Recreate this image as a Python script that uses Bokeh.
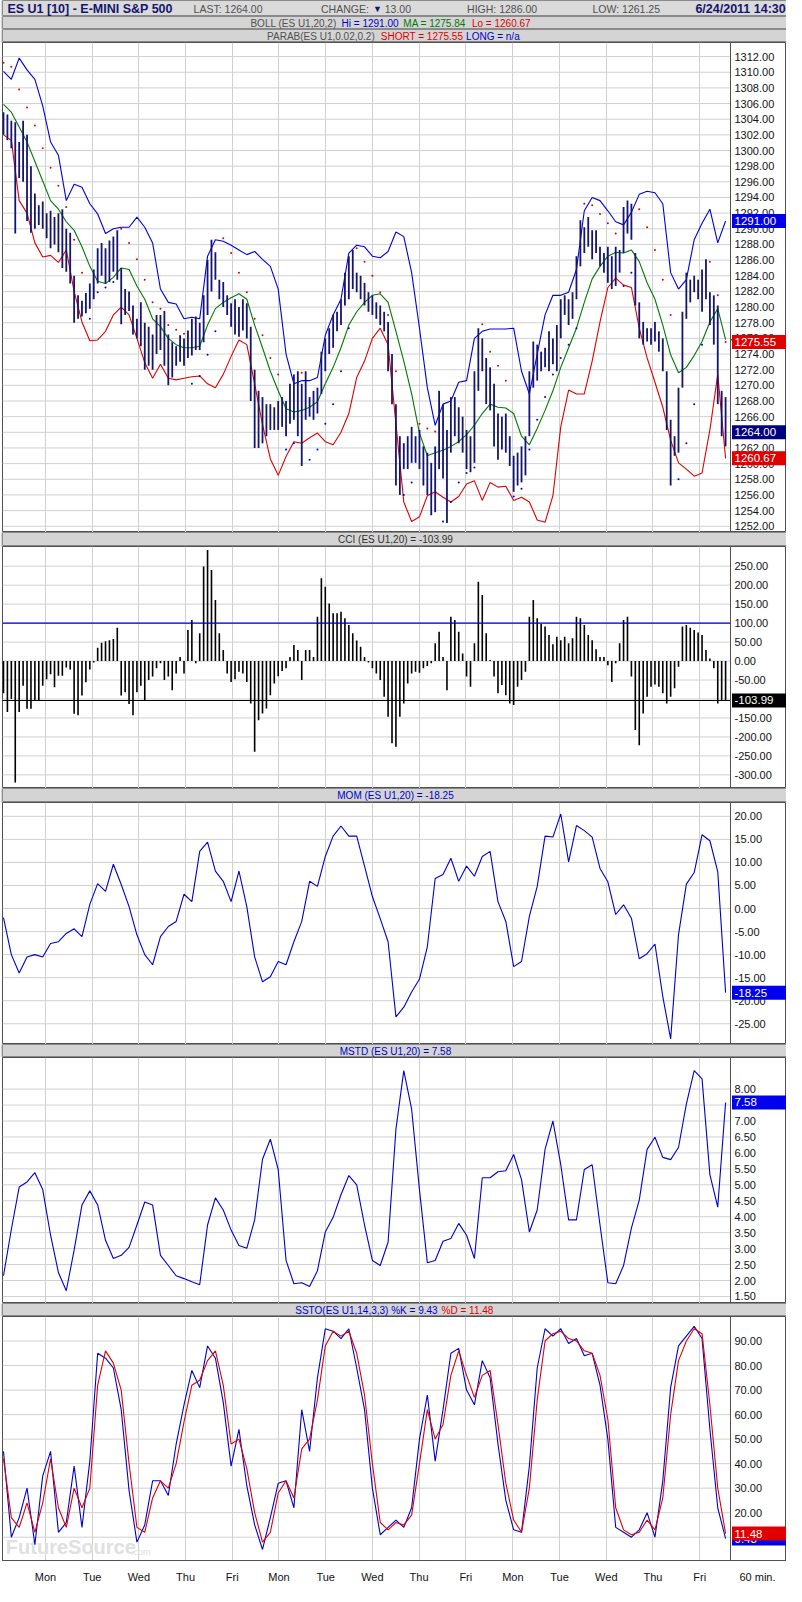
from bokeh.plotting import figure
from bokeh.models import Range1d, FixedTicker, Span
from bokeh.layouts import column
from bokeh.embed import file_html
from bokeh.resources import INLINE
from bokeh.core.properties import value

# ---------------- data ----------------
# bar index: one entry per two 60-minute bars
day_pos = [10.7, 22.6, 34.5, 46.4, 58.3, 70.2, 82.1, 94.0, 105.9, 117.8, 129.8, 141.7, 153.6, 165.5, 177.4]
day_lab = ["Mon", "Tue", "Wed", "Thu", "Fri", "Mon", "Tue", "Wed", "Thu", "Fri", "Mon", "Tue", "Wed", "Thu", "Fri"]
interval_label = "60 min."

high = [1304.9, 1304.6, 1303.8, 1303.6, 1301.1, 1303.8, 1302.0, 1298.0, 1294.5, 1293.0,
        1293.5, 1292.0, 1292.3, 1291.5, 1292.0, 1292.5, 1290.0, 1289.5, 1284.0, 1281.5,
        1280.8, 1281.8, 1283.0, 1284.8, 1287.5, 1288.2, 1287.5, 1288.5, 1289.0, 1289.8,
        1285.0, 1282.3, 1282.0, 1280.2, 1278.5, 1280.6, 1278.0, 1277.5, 1276.5, 1279.0,
        1279.0, 1279.5, 1276.5, 1275.5, 1275.0, 1276.4, 1276.0, 1277.0, 1278.5, 1278.8,
        1278.0, 1281.5, 1286.0, 1288.6, 1287.0, 1283.5, 1283.2, 1281.5, 1280.5, 1281.0,
        1280.0, 1281.0, 1280.5, 1277.5, 1272.0, 1269.3, 1268.5, 1267.6, 1267.6, 1267.2,
        1268.0, 1268.5, 1268.0, 1270.2, 1271.4, 1271.8, 1270.2, 1271.8, 1268.5, 1269.3,
        1269.7, 1274.3, 1276.0, 1277.3, 1279.0, 1279.4, 1281.0, 1284.4, 1286.5, 1287.3,
        1284.4, 1284.0, 1283.1, 1281.9, 1281.5, 1280.6, 1280.2, 1279.4, 1278.1, 1274.0,
        1267.6, 1263.5, 1262.6, 1263.5, 1264.7, 1263.5, 1264.3, 1262.2, 1261.4, 1260.1,
        1262.2, 1269.3, 1267.6, 1264.3, 1268.5, 1268.5, 1267.2, 1266.0, 1264.3, 1263.5,
        1271.8, 1277.3, 1276.0, 1273.5, 1272.3, 1270.2, 1266.4, 1266.0, 1266.4, 1263.5,
        1261.0, 1261.4, 1262.2, 1263.5, 1271.8, 1275.6, 1275.2, 1274.3, 1274.8, 1276.9,
        1276.0, 1277.7, 1281.0, 1281.5, 1281.0, 1281.9, 1286.5, 1291.1, 1290.2, 1291.5,
        1289.8, 1289.8, 1287.7, 1286.9, 1287.7, 1286.5, 1287.7, 1287.3, 1292.8, 1293.6,
        1293.2, 1286.9, 1280.6, 1278.1, 1277.3, 1277.3, 1278.1, 1276.9, 1276.0, 1271.8,
        1265.6, 1263.5, 1269.7, 1279.4, 1284.4, 1283.5, 1284.0, 1283.5, 1284.8, 1286.1,
        1281.9, 1281.5, 1280.2, 1269.3, 1268.5]
low = [1302.0, 1301.3, 1300.3, 1289.4, 1296.5, 1296.0, 1291.0, 1289.5, 1290.0, 1290.5,
       1290.0, 1288.8, 1287.5, 1288.0, 1287.0, 1285.0, 1284.5, 1283.0, 1278.0, 1278.5,
       1278.8, 1279.2, 1279.8, 1281.0, 1283.0, 1284.0, 1283.0, 1283.2, 1284.5, 1283.5,
       1277.8, 1279.0, 1279.5, 1276.5, 1276.0, 1275.0, 1272.0, 1272.5, 1272.0, 1274.0,
       1274.5, 1272.5, 1270.0, 1271.0, 1272.5, 1273.0, 1272.5, 1273.5, 1273.8, 1274.5,
       1274.5, 1275.5, 1279.0, 1282.0, 1283.5, 1281.0, 1280.0, 1279.0, 1277.5, 1276.5,
       1276.2, 1277.0, 1276.0, 1268.0, 1262.0, 1262.0, 1262.6, 1263.5, 1264.3, 1264.3,
       1264.3, 1264.7, 1263.5, 1265.1, 1265.6, 1263.5, 1259.7, 1265.6, 1266.0, 1265.6,
       1266.4, 1268.9, 1271.8, 1274.0, 1274.8, 1276.9, 1277.7, 1280.2, 1281.0, 1282.3,
       1281.9, 1281.0, 1280.2, 1279.4, 1279.0, 1278.5, 1277.7, 1276.9, 1271.8, 1267.6,
       1257.2, 1256.0, 1259.3, 1259.3, 1260.1, 1260.1, 1259.3, 1257.2, 1256.0, 1253.4,
       1253.8, 1259.3, 1258.1, 1252.4, 1261.4, 1263.5, 1262.6, 1261.4, 1259.3, 1258.9,
       1260.1, 1269.3, 1271.8, 1267.6, 1266.8, 1262.2, 1260.5, 1261.8, 1261.4, 1259.7,
       1256.4, 1257.2, 1257.6, 1258.5, 1263.5, 1269.7, 1270.6, 1271.8, 1272.3, 1271.8,
       1272.7, 1271.8, 1276.0, 1279.0, 1277.7, 1278.5, 1281.0, 1285.2, 1286.9, 1287.7,
       1286.1, 1286.9, 1285.2, 1284.4, 1283.1, 1282.3, 1282.7, 1284.4, 1286.9, 1289.4,
       1288.6, 1280.2, 1276.0, 1275.2, 1275.6, 1275.2, 1275.6, 1274.3, 1271.8, 1264.3,
       1257.2, 1261.0, 1261.4, 1269.7, 1278.5, 1280.6, 1281.9, 1281.0, 1279.4, 1281.0,
       1277.7, 1275.2, 1267.6, 1263.5, 1262.2]
last_price = 1264.00

# lines sampled every second entry
boll_hi = [1310.1, 1309.1, 1311.8, 1310.3, 1309.1, 1305.7, 1301.1, 1299.4, 1293.6, 1295.7,
           1295.3, 1293.2, 1291.9, 1289.4, 1290.0, 1290.2, 1290.2, 1291.5, 1290.2, 1288.2,
           1282.3, 1280.6, 1280.4, 1278.5, 1278.7, 1278.5, 1286.5, 1288.6, 1288.4, 1287.9,
           1287.3, 1286.7, 1287.1, 1286.1, 1285.2, 1282.3, 1274.0, 1270.2, 1270.6, 1270.6,
           1271.0, 1276.4, 1279.0, 1281.0, 1286.9, 1287.9, 1287.7, 1286.5, 1286.3, 1287.1,
           1289.6, 1289.0, 1284.4, 1277.3, 1269.7, 1264.9, 1267.6, 1268.0, 1270.4, 1270.6,
           1276.0, 1276.9, 1277.2, 1277.2, 1277.2, 1277.3, 1271.8, 1268.9, 1274.0, 1279.0,
           1281.5, 1281.5, 1281.9, 1284.8, 1292.3, 1294.0, 1293.6, 1292.3, 1290.9, 1290.5,
           1292.1, 1294.4, 1294.8, 1294.6, 1293.2, 1284.4, 1282.3, 1283.5, 1288.6, 1290.7,
           1292.5, 1288.2, 1291.0]
boll_ma = [1305.9, 1304.9, 1303.0, 1301.1, 1298.6, 1296.1, 1293.6, 1292.5, 1290.9, 1289.8,
           1287.7, 1285.2, 1283.3, 1283.0, 1283.8, 1285.0, 1284.8, 1282.7, 1281.0, 1278.5,
           1277.5, 1276.0, 1275.2, 1274.8, 1274.8, 1275.0, 1277.7, 1279.8, 1280.6, 1281.2,
           1281.7, 1281.0, 1277.7, 1274.8, 1271.8, 1269.3, 1267.0, 1266.6, 1266.8, 1267.2,
           1267.9, 1270.2, 1272.3, 1274.8, 1277.7, 1279.4, 1280.6, 1281.5, 1281.7, 1280.6,
           1276.9, 1273.1, 1268.9, 1263.9, 1261.0, 1261.4, 1261.7, 1262.2, 1262.8, 1263.7,
           1264.9, 1266.4, 1267.6, 1267.2, 1267.1, 1266.4, 1263.5, 1262.4, 1264.5, 1266.8,
           1269.3, 1272.3, 1274.8, 1277.3, 1280.6, 1283.6, 1285.2, 1286.5, 1287.0, 1286.9,
           1287.3, 1285.8, 1283.1, 1281.0, 1277.7, 1273.9, 1271.6, 1272.3, 1273.8, 1275.6,
           1278.1, 1279.8, 1275.84]
boll_lo = [1302.0, 1301.3, 1293.6, 1292.0, 1288.2, 1286.4, 1286.6, 1285.7, 1287.3, 1282.0,
           1278.1, 1275.7, 1275.8, 1276.9, 1279.0, 1280.0, 1279.0, 1276.0, 1272.9, 1270.9,
           1272.7, 1270.9, 1270.7, 1270.9, 1271.1, 1271.2, 1270.2, 1269.7, 1271.4, 1273.7,
           1275.8, 1275.2, 1270.2, 1265.0, 1260.6, 1258.5, 1260.9, 1262.8, 1262.6, 1263.3,
           1263.9, 1262.8, 1262.4, 1264.0, 1266.4, 1271.0, 1273.1, 1276.0, 1277.3, 1275.2,
           1265.1, 1255.1, 1252.6, 1253.2, 1255.9, 1256.4, 1255.7, 1255.1, 1255.8, 1257.4,
           1257.8, 1255.3, 1257.6, 1257.0, 1257.1, 1255.3, 1255.7, 1255.1, 1252.8, 1252.5,
           1255.9, 1264.7, 1269.4, 1268.9, 1268.9, 1273.1, 1278.1, 1282.5, 1283.7, 1282.8,
           1282.5, 1277.3, 1273.5, 1270.4, 1267.2, 1263.0, 1260.1, 1259.3, 1258.4, 1258.8,
           1264.3, 1271.4, 1260.67]
parab = [1311.2, 1310.7, 1307.8, 1305.5, 1303.2, 1300.3, 1297.8, 1295.5, 1292.8, 1288.6,
         1284.4, 1278.5, 1281.9, 1282.5, 1283.2, 1290.0, 1288.2, 1286.1, 1283.5, 1280.6,
         1279.8, 1277.7, 1277.1, 1276.6, 1270.2, 1271.2, 1273.9, 1276.9, 1288.8, 1286.9,
         1284.4, 1281.9, 1278.5, 1276.4, 1273.5, 1271.4, 1261.8, 1262.6, 1271.6, 1260.5,
         1261.8, 1265.1, 1267.6, 1271.8, 1277.3, 1287.5, 1285.8, 1284.0, 1281.9, 1279.0,
         1271.8, 1256.0, 1257.6, 1265.1, 1264.5, 1264.1, 1252.6, 1255.1, 1257.6, 1258.8,
         1259.5, 1277.8, 1274.3, 1272.5, 1270.6, 1255.8, 1256.8, 1261.8, 1265.6, 1268.5,
         1271.4, 1273.5, 1275.2, 1277.3, 1293.2, 1293.0, 1291.9, 1290.7, 1289.4, 1282.7,
         1284.4, 1292.5, 1290.2, 1287.3, 1283.5, 1279.0, 1258.0, 1262.6, 1267.6, 1275.2,
         1285.8, 1281.5, 1275.55]

cci = [-85, -134, -100, -320, -134, -65, -126, -126, -104, -104,
       -65, -48, -35, -69, -39, -39, -17, -22, -139, -143,
       -91, -56, -22, -4, 35, 48, 52, 55, 58, 88,
       -91, -82, -113, -143, -82, -65, -104, -50, -41, -19,
       -6, -50, -41, -77, -33, 11, -33, 82, 108, -6,
       73, 249, 293, 240, 161, 73, 29, -33, -55, -48,
       -28, -33, -55, -112, -239, -156, -138, -125, -90, -59,
       -40, -26, -19, 11, 42, 29, -50, 29, 29, 11,
       117, 218, 196, 152, 126, 126, 130, 113, 95, 73,
       54, 38, 11, -4, -19, -33, -50, -94, -147, -217,
       -226, -147, -112, -59, -33, -28, -31, -19, -13, -6,
       47, 77, 11, -77, 117, 108, 77, 20, -41, -68,
       47, 209, 174, 73, 3, -41, -85, -63, -90, -112,
       -116, -68, -50, -28, 117, 161, 113, 98, 91, 69,
       44, 64, 55, 64, 47, 60, 117, 113, 95, 69,
       55, 31, 11, 11, -11, -55, -6, 47, 108, 117,
       -41, -182, -222, -138, -94, -68, -62, -68, -85, -112,
       -94, -72, -15, 91, 95, 88, 82, 75, 69, 29,
       7, -19, -112, -103, -103.99]
cci_level = 100

mom = [-2, -10, -14, -10.5, -10, -10.5, -7.6, -7.2, -5.4, -4.4,
       -6.1, 0.9, 5.4, 3.7, 9.6, 5.2, 0.4, -5.7, -10, -12.2,
       -6.1, -3.9, -2.8, 3.1, 1.5, 12.4, 14.4, 8.1, 5.9, 1.5,
       8.1, 0.4, -10.5, -15.9, -14.8, -11.5, -12.2, -7.2, -2.8, 5.9,
       4.8, 11.3, 15.7, 17.9, 15.7, 15.7, 9.2, 2.6, -2.2, -7.2,
       -23.5, -21.4, -18.1, -15.3, -8.3, 6.5, 7.4, 10.9, 5.9, 9.2,
       7.0, 11.3, 12.4, 1.5, -2.8, -12.6, -11.5, -1.7, 4.8, 15.7,
       15.5, 20.5, 10.1, 18.0, 16.9, 15.5, 8.7, 5.8, -1.3, 0.8,
       -2.1, -10.9, -9.8, -7.7, -19.1, -28.3, -5.7, 5.3, 7.8, 16.0,
       14.7, 8.0, -18.25]

mstd = [2.15, 3.6, 4.93, 5.09, 5.38, 4.85, 3.42, 2.25, 1.68, 2.95,
        4.37, 4.81, 4.37, 3.26, 2.69, 2.79, 3.04, 3.74, 4.46, 4.37,
        2.79, 2.47, 2.15, 2.06, 1.96, 1.87, 3.74, 4.59, 4.21, 3.58,
        3.1, 3.01, 3.9, 5.8, 6.43, 5.48, 2.63, 1.9, 1.93, 1.81,
        2.31, 3.52, 3.98, 4.69, 5.29, 5.0, 3.74, 2.63, 2.47, 3.2,
        6.74, 8.58, 7.37, 4.84, 2.56, 2.63, 3.23, 3.32, 3.79, 3.42,
        2.69, 5.22, 5.22, 5.41, 5.44, 5.95, 5.16, 3.52, 4.21, 6.11,
        7.0, 5.63, 3.9, 3.9, 5.48, 5.63, 3.74, 1.93, 1.9, 2.47,
        3.64, 4.52, 6.11, 6.49, 5.86, 5.79, 6.17, 7.53, 8.58, 8.32,
        5.32, 4.3, 7.58]

ssto_k = [45, 10, 18, 30, 7, 35, 45, 12, 16, 39,
          14, 41, 85, 83, 79, 62, 29, 8, 15, 33,
          33, 27, 48, 64, 78, 71, 88, 83, 65, 39,
          54, 31, 15, 5, 18, 32, 33, 22, 62, 45,
          75, 95, 94, 91, 95, 79, 62, 30, 11, 14,
          17, 14, 22, 50, 68, 41, 62, 85, 87, 70,
          64, 82, 75, 48, 25, 13, 12, 39, 79, 95,
          92, 95, 89, 91, 84, 85, 72, 50, 14, 12,
          10, 13, 20, 10, 33, 71, 88, 92, 96, 91,
          54, 22, 9.43]
ssto_d = [42, 18, 14, 24, 12, 24, 42, 22, 14, 30,
          22, 30, 72, 86, 81, 70, 40, 14, 12, 26,
          33, 30, 40, 57, 72, 74, 82, 86, 72, 48,
          50, 38, 20, 8, 12, 28, 33, 26, 46, 50,
          66, 88, 94, 92, 94, 85, 68, 40, 16, 13,
          16, 15, 19, 40, 62, 50, 56, 76, 86, 76,
          67, 76, 78, 56, 32, 17, 12, 30, 66, 90,
          93, 94, 91, 90, 86, 85, 76, 58, 22, 13,
          11, 12, 17, 13, 26, 60, 82, 90, 95, 93,
          64, 30, 11.48]

price_ticks = list(range(1252, 1313, 2))
cci_ticks = list(range(-300, 251, 50))
mom_ticks = list(range(-25, 21, 5))
mstd_ticks = [1.5, 2.0, 2.5, 3.0, 3.5, 4.0, 4.5, 5.0, 5.5, 6.0, 6.5, 7.0, 7.5, 8.0]
ssto_ticks = [10, 20, 30, 40, 50, 60, 70, 80, 90]

# ---------------- styling / layout ----------------
FONT = "Liberation Sans"
DATA_W = 728            # px of the data area
AXIS_W = 56             # px of the price-scale area on the right
TOTAL_W = 2 + DATA_W + AXIS_W
GRID = "#d0d0d0"
HDR_BG = "#d4d4d4"
NAVY = "#15156e"
BLUE = "#0000cc"
RED = "#e00000"
GREEN = "#007a00"
GRAY_TXT = "#505050"

xi = list(range(len(high)))
xe = list(range(0, len(high), 2))
X0, XEND = -0.25, len(high) + 0.25
PXU = DATA_W / (XEND - X0)            # screen px per bar slot
xr = Range1d(X0, XEND + AXIS_W / PXU)  # data area + scale area


def strip(h, pieces, bg=HDR_BG):
    p = figure(frame_width=TOTAL_W, frame_height=h, x_range=Range1d(0, 802), y_range=Range1d(0, 1),
               x_axis_location=None, y_axis_location=None, toolbar_location=None,
               output_backend="svg", min_border=0)
    p.grid.visible = False
    p.background_fill_color = bg
    p.border_fill_color = bg
    p.outline_line_color = "#8a8a8a"
    for x, txt, col, align, size, style in pieces:
        p.text(x=[x], y=[0.47], text=[txt], text_color=col, text_align=align, text_baseline="middle",
               text_font=value(FONT), text_font_size=size, text_font_style=style)
    return p


def panel(fh, yr, yticks, bottom=False):
    p = figure(frame_width=TOTAL_W - 2, frame_height=fh, x_range=xr, y_range=Range1d(*yr),
               y_axis_location=None, x_axis_location="below" if bottom else None,
               toolbar_location=None, output_backend="svg",
               min_border_left=2, min_border_right=0, min_border_top=0, min_border_bottom=0)
    p.background_fill_color = "white"
    p.border_fill_color = "white"
    p.outline_line_color = "#505050"
    p.ygrid.visible = False
    p.xgrid.ticker = FixedTicker(ticks=day_pos)
    p.xgrid.grid_line_color = GRID
    n = len(yticks)
    p.segment(x0=[X0] * n, y0=yticks, x1=[XEND] * n, y1=yticks, line_color=GRID, line_width=1)
    p.add_layout(Span(location=XEND, dimension="height", line_color="#505050", line_width=1))
    if bottom:
        bx = p.xaxis[0]
        tag_pos = round(XEND + 27 / PXU, 2)
        bx.ticker = FixedTicker(ticks=day_pos + [tag_pos])
        ov = {d: l for d, l in zip(day_pos, day_lab)}
        ov[tag_pos] = interval_label
        bx.major_label_overrides = ov
        bx.major_tick_line_color = None
        bx.minor_tick_line_color = None
        bx.axis_line_color = "#505050"
        bx.major_label_text_font = FONT
        bx.major_label_text_font_size = "11px"
        bx.major_label_text_color = "#111111"
        bx.major_label_standoff = 4
    return p


def scale_labels(p, yticks):
    p.text(x=[XEND] * len(yticks), y=yticks, text=[f"{t:.2f}" for t in yticks], x_offset=4,
           text_align="left", text_baseline="middle", text_font=value(FONT),
           text_font_size="11px", text_color="#111111")


def tag(p, yv, bg, fg="white"):
    p.rect(x=[XEND + (1 + AXIS_W / 2) / PXU], y=[yv], width=AXIS_W - 1, height=14,
           width_units="screen", height_units="screen", fill_color=bg, line_color=None)
    p.text(x=[XEND], y=[yv], text=[f"{yv:.2f}"], x_offset=4, text_align="left",
           text_baseline="middle", text_font=value(FONT), text_font_size="11.5px", text_color=fg)


# ---------------- header rows ----------------
h1 = strip(16, [
    (5, "ES U1 [10] - E-MINI S&P 500", NAVY, "left", "12.5px", "bold"),
    (195, "LAST: 1264.00", GRAY_TXT, "left", "10.5px", "normal"),
    (325, "CHANGE:", GRAY_TXT, "left", "10.5px", "normal"),
    (378, "\u25bc", NAVY, "left", "9px", "normal"),
    (390, "13.00", GRAY_TXT, "left", "10.5px", "normal"),
    (474, "HIGH: 1286.00", GRAY_TXT, "left", "10.5px", "normal"),
    (602, "LOW: 1261.25", GRAY_TXT, "left", "10.5px", "normal"),
    (707, "6/24/2011 14:30", NAVY, "left", "12.5px", "bold"),
], bg="#dadada")
h2 = strip(13, [
    (253, "BOLL (ES U1,20,2)", GRAY_TXT, "left", "10px", "normal"),
    (346, f"Hi = {boll_hi[-1]:.2f}", BLUE, "left", "10px", "normal"),
    (409, f"MA = {boll_ma[-1]:.2f}", GREEN, "left", "10px", "normal"),
    (479, f"Lo = {boll_lo[-1]:.2f}", RED, "left", "10px", "normal"),
])
h3 = strip(13, [
    (270, "PARAB(ES U1,0.02,0.2)", GRAY_TXT, "left", "10px", "normal"),
    (386, f"SHORT = {parab[-1]:.2f}", RED, "left", "10px", "normal"),
    (473, "LONG = n/a", BLUE, "left", "10px", "normal"),
])

# ---------------- price panel ----------------
pp = panel(490, (1251.2, 1313.8), price_ticks)
pp.line(xe, boll_hi, line_color="#0000dd", line_width=1.1)
pp.line(xe, boll_ma, line_color=GREEN, line_width=1.1)
pp.line(xe, boll_lo, line_color=RED, line_width=1.1)
sar_col = [RED if s > (high[i] + low[i]) / 2 else BLUE for i, s in zip(xe, parab)]
pp.scatter(xe, parab, size=2, color=sar_col, line_color=None)
pp.segment(x0=xi, y0=low, x1=xi, y1=high, line_color=NAVY, line_width=1.8)
scale_labels(pp, price_ticks)
tag(pp, boll_hi[-1], "#0000ee")
pp.segment(x0=[XEND], y0=[boll_ma[-1]], x1=[xr.end], y1=[boll_ma[-1]], line_color=GREEN, line_width=1.5)
tag(pp, parab[-1], RED)
tag(pp, last_price, "#000080")
tag(pp, boll_lo[-1], RED)

# ---------------- CCI ----------------
hc = strip(14, [(401, f"CCI (ES U1,20) = {cci[-1]:.2f}", "#303030", "center", "10px", "normal")])
pc = panel(242, (-336, 302), cci_ticks)
pc.segment(x0=xi, y0=[0] * len(cci), x1=xi, y1=cci, line_color="black", line_width=1.6)
pc.segment(x0=[X0], y0=[cci_level], x1=[XEND], y1=[cci_level], line_color="#0000cc", line_width=1.2)
pc.segment(x0=[X0], y0=[cci[-1]], x1=[XEND], y1=[cci[-1]], line_color="black", line_width=1.2)
scale_labels(pc, cci_ticks)
tag(pc, cci[-1], "black")

# ---------------- MOM ----------------
hm = strip(14, [(401, f"MOM (ES U1,20) = {mom[-1]:.2f}", BLUE, "center", "10px", "normal")])
pm = panel(242, (-29.5, 23.0), mom_ticks)
pm.line(xe, mom, line_color=BLUE, line_width=1.1)
scale_labels(pm, mom_ticks)
tag(pm, mom[-1], "#0000ee")

# ---------------- MSTD ----------------
hs = strip(13, [(401, f"MSTD (ES U1,20) = {mstd[-1]:.2f}", BLUE, "center", "10px", "normal")])
ps = panel(246, (1.28, 8.99), mstd_ticks)
ps.line(xe, mstd, line_color=BLUE, line_width=1.1)
scale_labels(ps, mstd_ticks)
tag(ps, mstd[-1], "#0000ee")

# ---------------- SSTO ----------------
hk = strip(13, [
    (444, f"SSTO(ES U1,14,3,3) %K = {ssto_k[-1]:.2f}", BLUE, "right", "10px", "normal"),
    (448, f"%D = {ssto_d[-1]:.2f}", RED, "left", "10px", "normal"),
])
pk = panel(244, (0.5, 100), ssto_ticks, bottom=True)
pk.text(x=[0.6], y=[6], text=["FutureSource"], text_color="#e0e0e0", text_baseline="middle",
        text_font=value(FONT), text_font_size="20px", text_font_style="bold")
pk.text(x=[32.5], y=[4], text=[".com"], text_color="#e0e0e0", text_baseline="middle",
        text_font=value(FONT), text_font_size="9px")
pk.line(xe, ssto_k, line_color=BLUE, line_width=1.1)
pk.line(xe, ssto_d, line_color=RED, line_width=1.1)
scale_labels(pk, ssto_ticks)
tag(pk, ssto_k[-1], "#0000ee")
tag(pk, ssto_d[-1], RED)

layout = column(h1, h2, h3, pp, hc, pc, hm, pm, hs, ps, hk, pk, spacing=0)
open("out.html", "w").write(file_html(layout, INLINE))
